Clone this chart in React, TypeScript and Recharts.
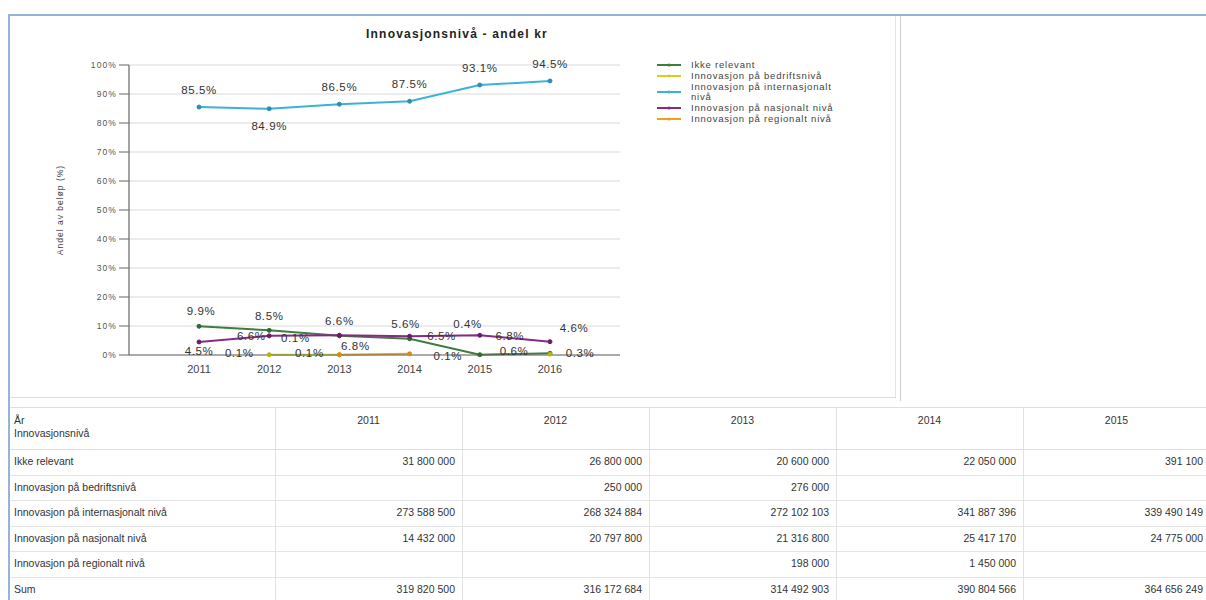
import React from 'react';
import { LineChart, Line, XAxis, YAxis, CartesianGrid, Legend, LabelList } from 'recharts';

const years = ['2011', '2012', '2013', '2014', '2015', '2016'];
const seriesNames = [
  'Ikke relevant',
  'Innovasjon på bedriftsnivå',
  'Innovasjon på internasjonalt nivå',
  'Innovasjon på nasjonalt nivå',
  'Innovasjon på regionalt nivå',
];
const ikkeRelevant = [9.9, 8.5, 6.6, 5.6, 0.1, 0.6];
const bedrift = [null, 0.1, 0.1, null, null, 0.3];
const internasjonalt = [85.5, 84.9, 86.5, 87.5, 93.1, 94.5];
const nasjonalt = [4.5, 6.6, 6.8, 6.5, 6.8, 4.6];
const regionalt = [null, null, 0.1, 0.4, null, null];
const yTicks = [0, 10, 20, 30, 40, 50, 60, 70, 80, 90, 100];

const tableYears = ['2011', '2012', '2013', '2014', '2015'];
const tIkke = [31800000, 26800000, 20600000, 22050000, 391100];
const tBedrift = [null, 250000, 276000, null, null];
const tIntl = [273588500, 268324884, 272102103, 341887396, 339490149];
const tNasj = [14432000, 20797800, 21316800, 25417170, 24775000];
const tRegional = [null, null, 198000, 1450000, null];
const tSum = [319820500, 316172684, 314492903, 390804566, 364656249];
const tableRows = [
  { name: 'Ikke relevant', values: tIkke },
  { name: 'Innovasjon på bedriftsnivå', values: tBedrift },
  { name: 'Innovasjon på internasjonalt nivå', values: tIntl },
  { name: 'Innovasjon på nasjonalt nivå', values: tNasj },
  { name: 'Innovasjon på regionalt nivå', values: tRegional },
  { name: 'Sum', values: tSum },
];

const keys = ['ikke', 'bedrift', 'intl', 'nasj', 'regional'];
const colors = ['#3d7d3d', '#cfd21e', '#3cb2d8', '#862a86', '#f0a020'];
const dotColors = ['#2f6a2f', '#b5b800', '#2a8fb2', '#6e1a6e', '#d98a10'];
const seriesValues = [ikkeRelevant, bedrift, internasjonalt, nasjonalt, regionalt];

// label offsets (dx, dy) per series and point
const labelOffsets: number[][][] = [
  [[2, -15], [0, -14], [0, -15], [-4, -15], [-32, 1], [-36, -2]],
  [[0, 0], [-30, -2], [-30, -2], [0, 0], [0, 0], [30, -1]],
  [[0, -17], [0, 17], [0, -17], [0, -17], [0, -17], [0, -17]],
  [[0, 9], [-18, 0], [16, 11], [32, 0], [30, 1], [24, -14]],
  [[0, 0], [0, 0], [-44, -17], [58, -30], [0, 0], [0, 0]],
];

const data = years.map((y, i) => {
  const row: any = { year: y };
  keys.forEach((k, s) => {
    row[k] = seriesValues[s][i];
  });
  return row;
});

const fmt = (n: number | null) => {
  if (n === null || n === undefined) return '';
  return String(n).replace(/\B(?=(\d{3})+(?!\d))/g, ' ');
};

const FONT = '"Liberation Sans", Arial, sans-serif';

const makeLabel = (s: number) => (props: any) => {
  const { x, y, value, index } = props;
  if (value === null || value === undefined) return null;
  const off = labelOffsets[s][index] || [0, -14];
  return (
    <text
      x={x + off[0]}
      y={y + off[1]}
      textAnchor="middle"
      dominantBaseline="central"
      fontSize={11.5}
      letterSpacing={0.6}
      fontFamily={FONT}
      fill="#333"
    >
      {value.toFixed(1)}%
    </text>
  );
};

const LegendContent = (props: any) => {
  const { payload } = props;
  return (
    <div style={{ fontFamily: FONT, fontSize: 9.5, letterSpacing: 0.8, color: '#444', lineHeight: '10px' }}>
      {(payload || []).map((p: any, i: number) => (
        <div key={i} style={{ display: 'flex', alignItems: 'center', marginBottom: 1 }}>
          <svg width={24} height={6} style={{ flex: 'none', marginRight: 10 }}>
            <line x1={0} y1={3} x2={24} y2={3} stroke={p.color} strokeWidth={2} />
            <circle cx={12} cy={3} r={1.6} fill={p.color} />
          </svg>
          <span style={{ width: 155 }}>{p.value}</span>
        </div>
      ))}
    </div>
  );
};

const YLabel = (props: any) => {
  const { viewBox } = props;
  const cx = 50;
  const cy = viewBox.y + viewBox.height / 2;
  return (
    <text
      x={cx}
      y={cy}
      transform={`rotate(-90, ${cx}, ${cy})`}
      textAnchor="middle"
      dominantBaseline="central"
      fontSize={8.5}
      letterSpacing={1}
      fontFamily={FONT}
      fill="#444"
    >
      Andel av beløp (%)
    </text>
  );
};

export default function App() {
  const colW = [265, 187, 187, 187, 187, 187];
  const colX = [10];
  colW.forEach((w, i) => colX.push(colX[i] + w));
  const headerTop = 407;
  const headerH = 42;
  const rowH = 25.5;
  return (
    <div
      style={{
        position: 'absolute',
        left: 0,
        top: 0,
        width: 1206,
        height: 600,
        overflow: 'hidden',
        background: '#fff',
        fontFamily: FONT,
      }}
    >
      {/* page frame */}
      <div style={{ position: 'absolute', left: 9, top: 14, width: 1200, height: 2, background: '#94b4db' }} />
      <div style={{ position: 'absolute', left: 8, top: 14, width: 2, height: 600, background: '#94b4db' }} />
      {/* chart frame lines */}
      <div style={{ position: 'absolute', left: 895, top: 16, width: 1, height: 381, background: '#e4e4e4' }} />
      <div style={{ position: 'absolute', left: 900, top: 16, width: 1, height: 385, background: '#cfcfcf' }} />
      <div style={{ position: 'absolute', left: 10, top: 397, width: 886, height: 1, background: '#dcdcdc' }} />

      <div
        style={{
          position: 'absolute',
          left: 257,
          top: 27,
          width: 400,
          textAlign: 'center',
          fontSize: 12,
          letterSpacing: 1.2,
          fontWeight: 'bold',
          color: '#222',
        }}
      >
        Innovasjonsnivå - andel kr
      </div>

      <div style={{ position: 'absolute', left: 10, top: 15 }}>
        <LineChart
          width={886}
          height={382}
          data={data}
          margin={{ top: 50, right: 276, bottom: 12, left: 59 }}
        >
          <CartesianGrid vertical={false} stroke="#e6e6e6" strokeWidth={1.5} />
          <XAxis
            dataKey="year"
            padding={{ left: 70, right: 70 }}
            tickLine={false}
            axisLine={{ stroke: '#666', strokeWidth: 1.2 }}
            tick={{ fontSize: 11, fill: '#444', fontFamily: FONT }}
            height={30}
            tickMargin={4}
          />
          <YAxis
            domain={[0, 100]}
            ticks={yTicks}
            width={60}
            interval={0}
            tickFormatter={(v: number) => `${v}%`}
            tick={{ fontSize: 8.5, fill: '#555', fontFamily: FONT, letterSpacing: 1.1 }}
            tickSize={10}
            tickMargin={2}
            tickLine={{ stroke: '#666' }}
            axisLine={{ stroke: '#666', strokeWidth: 1.2 }}
            label={<YLabel />}
          />
          <Legend
            layout="vertical"
            align="center"
            verticalAlign="middle"
            wrapperStyle={{ left: 647, top: 45, width: 220 }}
            content={<LegendContent />}
          />
          {keys.map((k, s) => (
            <Line
              key={k}
              dataKey={k}
              name={seriesNames[s]}
              stroke={colors[s]}
              strokeWidth={2}
              dot={{ r: 2, fill: dotColors[s], stroke: dotColors[s], strokeWidth: 1 }}
              activeDot={false}
              isAnimationActive={false}
              connectNulls={false}
            >
              <LabelList dataKey={k} content={makeLabel(s)} />
            </Line>
          ))}
        </LineChart>
      </div>

      {/* table */}
      <div style={{ position: 'absolute', left: 10, top: headerTop, width: 1220, height: 1, background: '#dedede' }} />
      <div style={{ position: 'absolute', left: 10, top: headerTop + headerH, width: 1220, height: 1, background: '#dedede' }} />
      {tableRows.map((r, i) => (
        <div
          key={'l' + i}
          style={{
            position: 'absolute',
            left: 10,
            top: headerTop + headerH + rowH * (i + 1),
            width: 1220,
            height: 1,
            background: '#e4e4e4',
          }}
        />
      ))}
      {colX.slice(1).map((x, i) => (
        <div
          key={'v' + i}
          style={{ position: 'absolute', left: x, top: headerTop, width: 1, height: 200, background: '#e2e2e2' }}
        />
      ))}
      <div style={{ position: 'absolute', left: 14, top: headerTop + 7, fontSize: 10.5, color: '#333', lineHeight: '13px' }}>
        År
        <br />
        Innovasjonsnivå
      </div>
      {tableYears.map((y, i) => (
        <div
          key={'h' + i}
          style={{
            position: 'absolute',
            left: colX[i + 1],
            top: headerTop + 7,
            width: colW[i + 1],
            textAlign: 'center',
            fontSize: 10.5,
            color: '#333',
            lineHeight: '13px',
          }}
        >
          {y}
        </div>
      ))}
      {tableRows.map((r, i) => (
        <React.Fragment key={'r' + i}>
          <div
            style={{
              position: 'absolute',
              left: 14,
              top: headerTop + headerH + rowH * i,
              height: rowH,
              lineHeight: rowH + 'px',
              fontSize: 10.5,
              color: '#333',
            }}
          >
            {r.name}
          </div>
          {r.values.map((v, j) => (
            <div
              key={j}
              style={{
                position: 'absolute',
                left: colX[j + 1],
                top: headerTop + headerH + rowH * i,
                width: colW[j + 1] - 7,
                height: rowH,
                lineHeight: rowH + 'px',
                textAlign: 'right',
                fontSize: 10.5,
                color: '#333',
              }}
            >
              {fmt(v as number | null)}
            </div>
          ))}
        </React.Fragment>
      ))}
    </div>
  );
}
